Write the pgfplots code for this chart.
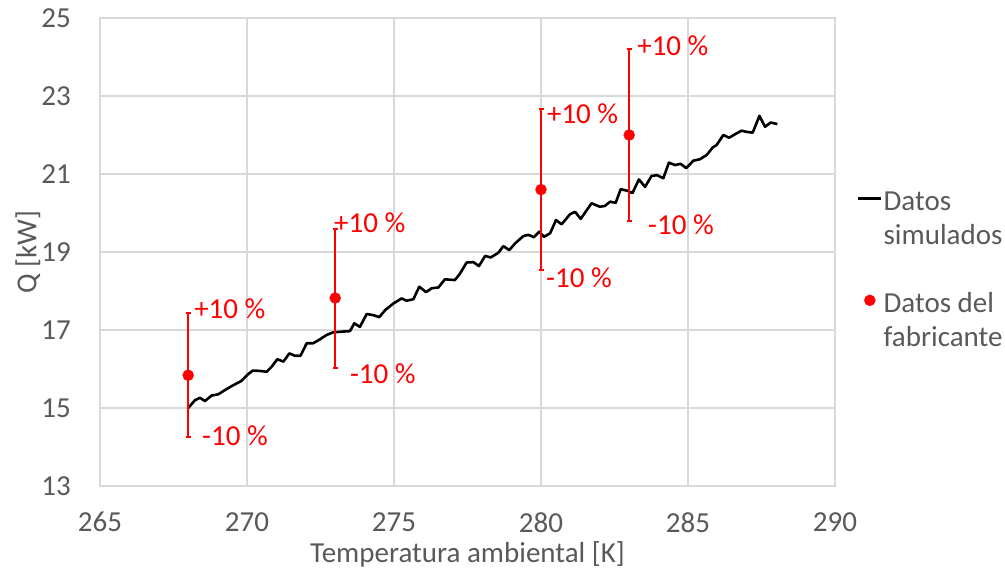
\documentclass[border=0pt]{standalone}
\usepackage{fontspec}
\setmainfont{Carlito}
\usepackage{pgfplots}
\pgfplotsset{compat=1.18}
\definecolor{gridgray}{HTML}{D9D9D9}
\definecolor{txtgray}{HTML}{595959}
\newcommand\fs{\fontsize{29}{34}\selectfont}
\tikzset{lbl/.style={anchor=west, inner sep=0pt, text=red, font=\fs}}
\begin{document}
\begin{tikzpicture}
\path[use as bounding box] (-100pt,-87pt) rectangle (905pt,486pt);
\begin{axis}[
 at={(0pt,0pt)}, anchor=south west,
 scale only axis, width=735pt, height=468pt,
 xmin=265, xmax=290, ymin=13, ymax=25,
 xtick={265,270,...,290}, ytick={13,15,...,25},
 grid=major, major grid style={draw=gridgray, line width=1.2pt},
 axis line style={draw=gridgray, line width=1.2pt},
 major tick length=0pt,
 tick label style={font=\fs, text=txtgray, inner sep=0pt},
 /pgf/number format/assume math mode=true,
 /pgf/number format/1000 sep={},
 xticklabel style={anchor=north, yshift=-26pt},
 yticklabel style={anchor=east, xshift=-29pt},
 xlabel={Temperatura ambiental [K]},
 ylabel={Q [kW]},
 every axis x label/.style={at={(axis description cs:0.5,-0.146)}, anchor=center, font=\fs, text=txtgray, inner sep=0pt},
 every axis y label/.style={at={(axis description cs:-0.098,0.5)}, anchor=center, rotate=90, font=\fs, text=txtgray, inner sep=0pt},
 legend cell align=left,
 legend style={at={(1.03,0.651)}, anchor=north west, draw=none, fill=none, inner sep=0pt, outer sep=0pt, row sep=0pt, column sep=1pt, font=\fs, text=txtgray,
   nodes={inner sep=0pt, text height=28.7pt, text depth=5.3pt, font=\fs, text=txtgray}},
 legend image code/.code={\draw[mark repeat=2,mark phase=2,#1] plot coordinates {(0pt,0pt) (11.5pt,0pt) (23pt,0pt)};},
]
\addplot[black, line width=2.6pt, line join=round] coordinates {
(268.00,15.00) (268.23,15.20) (268.40,15.26) (268.57,15.18) (268.80,15.32)
(269.02,15.35) (269.25,15.46) (269.50,15.57) (269.80,15.69) (270.04,15.87)
(270.20,15.96) (270.44,15.95) (270.67,15.93) (270.84,16.06) (271.03,16.25)
(271.24,16.19) (271.44,16.40) (271.63,16.34) (271.82,16.34) (272.03,16.66)
(272.25,16.66) (272.48,16.76) (272.70,16.87) (272.93,16.94) (273.27,16.96)
(273.50,16.97) (273.65,17.17) (273.84,17.08) (274.07,17.41) (274.30,17.38)
(274.50,17.33) (274.70,17.51) (274.98,17.68) (275.26,17.81) (275.43,17.75)
(275.66,17.79) (275.86,18.11) (276.09,17.97) (276.28,18.07) (276.51,18.09)
(276.73,18.30) (277.07,18.28) (277.24,18.44) (277.47,18.73) (277.70,18.74)
(277.89,18.64) (278.10,18.90) (278.29,18.86) (278.55,18.98) (278.72,19.15)
(278.92,19.05) (279.12,19.22) (279.40,19.41) (279.57,19.44) (279.76,19.38)
(279.94,19.52) (280.10,19.39) (280.31,19.48) (280.51,19.82) (280.70,19.71)
(280.99,19.97) (281.16,20.03) (281.35,19.85) (281.72,20.25) (282.00,20.16)
(282.17,20.18) (282.35,20.29) (282.54,20.26) (282.71,20.61) (282.94,20.57)
(283.11,20.51) (283.33,20.86) (283.54,20.67) (283.76,20.95) (283.95,20.97)
(284.16,20.89) (284.35,21.29) (284.56,21.23) (284.75,21.26) (284.94,21.15)
(285.18,21.34) (285.41,21.38) (285.64,21.49) (285.84,21.68) (285.97,21.74)
(286.20,22.00) (286.40,21.93) (286.60,22.02) (286.82,22.11) (287.00,22.08)
(287.20,22.06) (287.43,22.49) (287.62,22.21) (287.81,22.32) (288.04,22.28)
};
\addlegendentry{Datos}
\addlegendimage{empty legend}\addlegendentry{simulados}
\addlegendimage{empty legend}\addlegendentry{\vphantom{x}}
\addplot[only marks, mark=*, mark size=5.5pt, color=red,
  error bars/.cd, y dir=both, y explicit,
  error bar style={red, line width=2pt},
  error mark options={red, rotate=90, mark size=2.5pt, line width=2pt}]
  coordinates {
  (268,15.84) +- (0,1.584)
  (273,17.82) +- (0,1.782)
  (280,20.60) +- (0,2.060)
  (283,22.00) +- (0,2.200)
};
\addlegendentry{Datos del}
\addlegendimage{empty legend}\addlegendentry{fabricante}
\node[lbl] at (axis cs:268.20,17.54) {+10 \%};
\node[lbl] at (axis cs:268.47,14.28) {-10 \%};
\node[lbl] at (axis cs:272.96,19.76) {+10 \%};
\node[lbl] at (axis cs:273.50,15.87) {-10 \%};
\node[lbl] at (axis cs:280.20,22.54) {+10 \%};
\node[lbl] at (axis cs:280.17,18.33) {-10 \%};
\node[lbl] at (axis cs:283.27,24.29) {+10 \%};
\node[lbl] at (axis cs:283.64,19.69) {-10 \%};
\end{axis}
\end{tikzpicture}
\end{document}
